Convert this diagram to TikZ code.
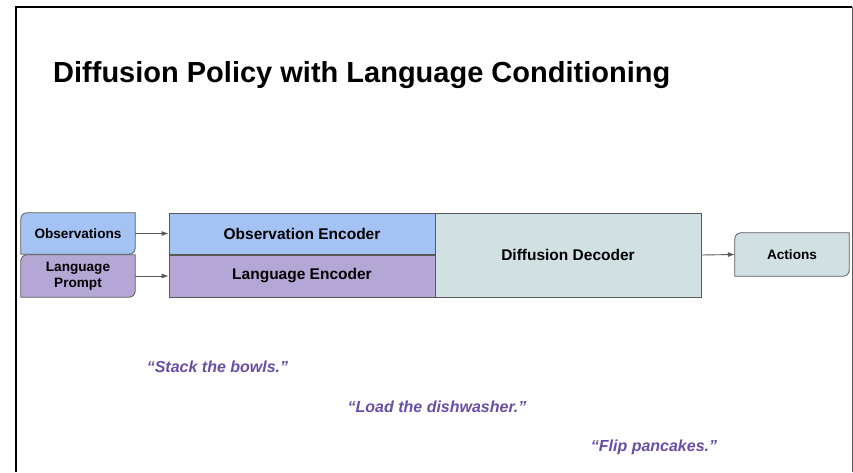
\documentclass[tikz,border=0pt]{standalone}
\usepackage{fontspec}
\setmainfont{Liberation Sans}
\usetikzlibrary{arrows.meta}
\definecolor{obsblue}{HTML}{A4C2F4}
\definecolor{langpurple}{HTML}{B4A7D6}
\definecolor{decodecyan}{HTML}{D0E0E3}
\definecolor{edgegray}{HTML}{595959}
\definecolor{quotepurple}{HTML}{674EA7}
\tikzset{
  box/.style={rectangle, draw=edgegray, line width=0.8pt, inner sep=0pt, align=center, font=\bfseries\fontsize{15.5}{17}\selectfont},
  tab/.style={rectangle, draw=none, inner sep=0pt, align=center, font=\bfseries\fontsize{13.6}{15.5}\selectfont},
  tabedge/.style={draw=edgegray, line width=0.8pt},
  link/.style={draw=edgegray, line width=0.9pt, -{Latex[length=7pt,width=5pt]}},
  quote/.style={font=\bfseries\itshape\fontsize{16}{18}\selectfont, text=quotepurple, inner sep=0pt},
}
\newcommand{\tabshape}[2]{%
  \path[fill=#2, tabedge] ([xshift=6pt]#1.north west) -- (#1.north east) -- ([yshift=6pt]#1.south east)
    arc[start angle=0, end angle=-90, radius=6pt] -- (#1.south west) -- ([yshift=-6pt]#1.north west)
    arc[start angle=180, end angle=90, radius=6pt] -- cycle;}
\begin{document}
\begin{tikzpicture}[x=1pt, y=1pt]
\useasboundingbox (0,0) rectangle (853,472);
% frame
\draw[line width=2.6pt, black] (16,0) -- (16,465) -- (852,465);
\draw[line width=1pt, edgegray] (852,465) -- (852,0);
% title
\node[anchor=base west, inner sep=0pt, font=\bfseries\fontsize{29}{32}\selectfont] (title) at (53,389) {Diffusion Policy with Language Conditioning};
% input tabs
\node[tab, minimum width=114pt, minimum height=41pt] (obs) at (78,238.5) {};
\node[tab, minimum width=114pt, minimum height=42pt] (lp) at (78,196) {};
\tabshape{obs}{obsblue}
\tabshape{lp}{langpurple}
\node[tab] (obstext) at (obs.center) {Observations};
\node[tab] (lptext) at (lp.center) {Language\\Prompt};
% encoders and decoder
\node[box, fill=obsblue, minimum width=266pt, minimum height=41pt] (oe) at (302,238.5) {Observation Encoder};
\node[box, fill=langpurple, minimum width=266pt, minimum height=42pt] (le) at (302,196) {Language Encoder};
\node[box, fill=decodecyan, minimum width=266pt, minimum height=84pt] (dd) at (568,217) {Diffusion Decoder};
% output tab
\node[tab, minimum width=114pt, minimum height=43pt] (act) at (792,217.5) {};
\tabshape{act}{decodecyan}
\node[tab] (acttext) at (act.center) {Actions};
% connectors
\draw[link] (obs.east) -- (oe.west);
\draw[link] (lp.east) -- (le.west);
\draw[link] (dd.east) -- (act.west);
% example prompts
\node[quote] (q1) at (217.5,105) {“Stack the bowls.”};
\node[quote] (q2) at (437,65) {“Load the dishwasher.”};
\node[quote] (q3) at (654,25) {“Flip pancakes.”};
\end{tikzpicture}
\end{document}
